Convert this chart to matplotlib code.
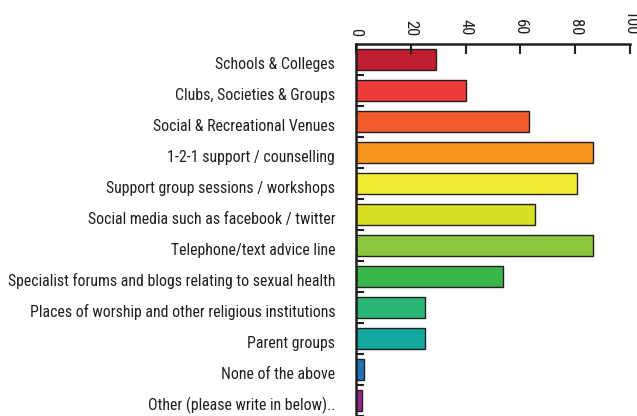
import numpy as np
import matplotlib
matplotlib.use('Agg')
import matplotlib.pyplot as plt
import matplotlib.transforms as mtransforms

categories = ['Schools & Colleges', 'Clubs, Societies & Groups',
              'Social & Recreational Venues', '1-2-1 support / counselling',
              'Support group sessions / workshops',
              'Social media such as facebook / twitter',
              'Telephone/text advice line',
              'Specialist forums and blogs relating to sexual health',
              'Places of worship and other religious institutions',
              'Parent groups', 'None of the above',
              'Other (please write in below)..']
values = [29, 40, 63, 86.5, 80.5, 65.5, 86.5, 53.5, 25, 25, 3, 2]
colors = ['#C01F2F', '#EE3B3A', '#F15A2B', '#F7941E', '#F2EB31', '#D7DF23',
          '#8DC63F', '#39B54A', '#2BB673', '#12A89D', '#1C75BC', '#92278F']
xticks = [0, 20, 40, 60, 80, 100]

ink = '#231F20'
plt.rcParams['font.family'] = ['Roboto Condensed', 'Lato', 'DejaVu Sans']

fig = plt.figure(figsize=(6.37, 4.16), dpi=100)
ax = fig.add_axes([0.559, 0.0, 0.43, 0.894])

y = np.arange(len(categories))
ax.barh(y, values, height=0.7, color=colors, edgecolor=ink, linewidth=1.0)

ax.set_xlim(0, 100)
ax.set_ylim(11.39, -0.5)
ax.xaxis.tick_top()
ax.set_xticks(xticks)
ax.set_xticklabels([str(t) for t in xticks], rotation=-90, fontsize=12, color=ink)
ax.tick_params(axis='x', direction='in', length=7, width=1.5, color=ink, pad=6)

ax.set_yticks(y)
ax.set_yticklabels(categories, fontsize=11.4, color=ink)
ax.set_yticks(np.arange(0.5, len(categories), 1), minor=True)
ax.tick_params(axis='y', which='major', length=0, pad=15)
ax.tick_params(axis='y', which='minor', direction='in', length=6, width=1.5, color=ink)

# labels sit a little below the bar centres in the original
shift = mtransforms.ScaledTranslation(0, -3 / 100, fig.dpi_scale_trans)
for lab in ax.get_yticklabels():
    lab.set_transform(lab.get_transform() + shift)

for s in ['right', 'bottom']:
    ax.spines[s].set_visible(False)
for s in ['top', 'left']:
    ax.spines[s].set_linewidth(1.8)
    ax.spines[s].set_color(ink)

fig.savefig('out.png', dpi=100)
